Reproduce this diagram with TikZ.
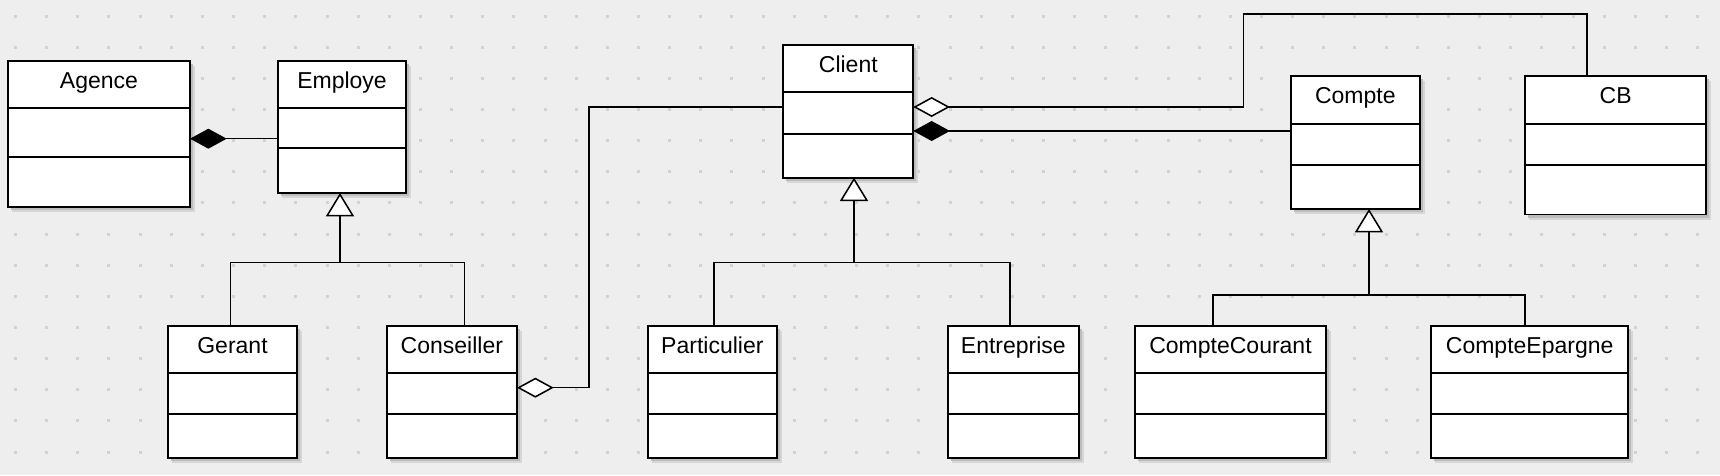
\documentclass[tikz,border=0pt]{standalone}
\usepackage{fontspec}
\setmainfont{Liberation Sans}
\usetikzlibrary{arrows.meta}
\definecolor{bgc}{HTML}{EEEEEE}
\definecolor{dotc}{HTML}{D2D2D2}
\definecolor{shA}{HTML}{D6D6D6}
\definecolor{shB}{HTML}{BDBDBD}
\tikzset{
  clsbox/.style={draw=black, fill=white, line width=1.35pt, rectangle, inner sep=0pt, outer sep=0pt},
  clsline/.style={draw=black, line width=1.35pt},
  clstitle/.style={anchor=base, inner sep=0pt, font=\fontsize{17.25}{20}\selectfont},
  conn/.style={draw=black, line width=1.15pt},
  comp/.style={conn, -{Diamond[length=27.5pt, width=15pt, fill=black]}},
  aggr/.style={conn, -{Diamond[length=27.5pt, width=15pt, fill=white]}},
  gen/.style={conn, -{Triangle[length=17.5pt, width=21pt, fill=white]}},
}
\newcommand\umlcls[8]{%
  \fill[shA] ({#2+4},{#3+5}) rectangle ({#4+5},{#5+5});
  \fill[shB] ({#2+3},{#3+3}) rectangle ({#4+3},{#5+3});
  \node[clsbox, minimum width={(#4-#2)*0.75pt}, minimum height={(#5-#3)*0.75pt}] (#1) at ({(#2+#4)/2},{(#3+#5)/2}) {};
  \draw[clsline] (#2,#6) -- (#4,#6);
  \draw[clsline] (#2,#7) -- (#4,#7);
  \node[clstitle] (#1-t) at ({(#2+#4)/2},{#3+27.3}) {#8};
}
\begin{document}
\begin{tikzpicture}[x=0.75pt, y=-0.75pt]
\useasboundingbox (0,0) rectangle (1720,475);
\fill[bgc] (0,0) rectangle (1720,475);
\foreach \i in {0,...,54}{
  \foreach \j in {0,...,14}{
    \fill[dotc] ({15.5+31.15*\i-1.5},{16+31.15*\j-1.5}) rectangle +(3,3);
  }
}
% classes: name, x1, y1, x2, y2, div1, div2, title
\umlcls{agence}{8}{60.7}{190}{206.7}{107.7}{156.7}{Agence}
\umlcls{employe}{278}{60.7}{406}{193}{107.7}{148}{Employe}
\umlcls{gerant}{168}{325.7}{297}{457.7}{372.7}{414}{Gerant}
\umlcls{conseiller}{386.7}{325.7}{517}{457.7}{372.7}{414}{Conseiller}
\umlcls{client}{783.3}{45}{913.3}{177.7}{92.3}{133.7}{Client}
\umlcls{particulier}{647.7}{325.7}{777}{457.7}{372.7}{414}{Particulier}
\umlcls{entreprise}{947.7}{325.7}{1079}{457.7}{372.7}{414}{Entreprise}
\umlcls{compte}{1290.7}{76}{1420}{209}{124}{164.7}{Compte}
\umlcls{cb}{1525}{76}{1706.3}{214.5}{124}{164.7}{CB}
\umlcls{comptecourant}{1135}{326}{1326}{457.7}{373}{414}{CompteCourant}
\umlcls{compteepargne}{1431}{326}{1628.3}{457.7}{373}{414}{CompteEpargne}
% helper coordinates
\coordinate (yAE) at (0,138.7);
\coordinate (yCC) at (0,131);
\coordinate (jEmp) at (340,262.7);
\coordinate (xGer) at (230.7,0);
\coordinate (xCon) at (464.7,0);
\coordinate (jCli) at (854,262.7);
\coordinate (xPar) at (714,0);
\coordinate (xEnt) at (1010,0);
\coordinate (jCpt) at (1369,295);
\coordinate (xCC) at (1213,0);
\coordinate (xCE) at (1525,0);
\coordinate (b1) at (589,107);
\coordinate (b2) at (589,387.7);
\coordinate (c1) at (1243.7,107);
\coordinate (c2) at (1243.7,14);
\coordinate (c3) at (1587,14);
% composition / aggregation
\draw[comp] (employe.west |- yAE) -- (agence.east |- yAE);
\draw[comp] (compte.west |- yCC) -- (client.east |- yCC);
\draw[aggr] (client.west |- b1) -- (b1) -- (b2) -- (conseiller.east |- b2);
\draw[aggr] (cb.north -| c3) -- (c3) -- (c2) -- (c1) -- (client.east |- c1);
% generalizations
\draw[conn] (gerant.north -| xGer) |- (jEmp);
\draw[conn] (conseiller.north -| xCon) |- (jEmp);
\draw[gen] (jEmp) -- (employe.south -| jEmp);
\draw[conn] (particulier.north -| xPar) |- (jCli);
\draw[conn] (entreprise.north -| xEnt) |- (jCli);
\draw[gen] (jCli) -- (client.south -| jCli);
\draw[conn] (comptecourant.north -| xCC) |- (jCpt);
\draw[conn] (compteepargne.north -| xCE) |- (jCpt);
\draw[gen] (jCpt) -- (compte.south -| jCpt);
\end{tikzpicture}
\end{document}
